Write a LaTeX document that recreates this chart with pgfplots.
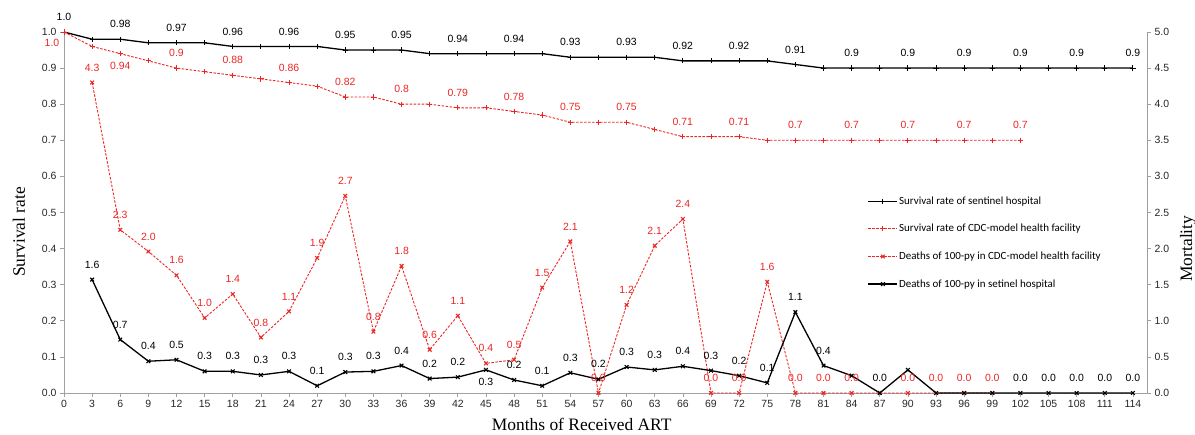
\documentclass[border=0pt]{standalone}
\usepackage{fontspec}
\setmainfont{Liberation Sans}
\newfontfamily\serifx{Liberation Serif}
\newfontfamily\calib{Carlito}
\usepackage{pgfplots}
\pgfplotsset{compat=1.18}
\definecolor{cdcred}{RGB}{236,38,36}
\definecolor{axgray}{RGB}{160,160,160}
\begin{document}
\begin{tikzpicture}
\pgfplotsset{
  common/.style={
    scale only axis, width=1083bp, height=361bp, at={(0,0)},
    xmin=0, xmax=115.5, clip=false,
    /pgf/number format/assume math mode=true,
    tick label style={font=\fontsize{10.5}{12}\selectfont, color=black!85},
    tick align=outside, major tick length=4bp,
    every tick/.style={axgray, line width=0.7bp},
    axis line style={axgray, line width=0.8bp},
  },
  lab/.style={draw=none, forget plot, nodes near coords, point meta=explicit symbolic,
    every node near coord/.append style={font=\fontsize{10.5}{12}\selectfont, anchor=center, inner sep=0pt, yshift=15bp}},
  labb/.style={draw=none, forget plot, nodes near coords, point meta=explicit symbolic,
    every node near coord/.append style={font=\fontsize{10.5}{12}\selectfont, anchor=center, inner sep=0pt, yshift=-12bp}},
  sents/.style={black, line width=1.3bp, mark=+, mark size=2.6bp, mark options={solid, line width=0.9bp}},
  cdcs/.style={cdcred, line width=0.9bp, dash pattern=on 2.5bp off 1.5bp, mark=+, mark size=2.6bp, mark options={solid, line width=0.9bp}},
  cdcd/.style={cdcred, line width=0.9bp, dash pattern=on 2.5bp off 1.5bp, mark=x, mark size=2.6bp, mark options={solid, line width=1.1bp}},
  sentd/.style={black, line width=1.3bp, mark=x, mark size=2.6bp, mark options={solid, line width=1.1bp}},
}
\begin{axis}[common,
  axis x line*=bottom, axis y line*=left,
  ymin=0, ymax=1,
  xtick={0,3,...,114},
  ytick={0,0.1,...,1.0},
  yticklabel style={/pgf/number format/.cd, fixed, fixed zerofill, precision=1},
  xlabel={\serifx\fontsize{17.5}{20}\selectfont Months of Received ART},
  xlabel style={at={(rel axis cs:0.478,0)}, anchor=center, yshift=-31bp},
  ylabel={\serifx\fontsize{17.5}{20}\selectfont Survival rate},
  ylabel style={at={(rel axis cs:0,0.446)}, anchor=center, yshift=45bp},
]
\addplot[sents] table {
x y
0 1.00
3 0.98
6 0.98
9 0.97
12 0.97
15 0.97
18 0.96
21 0.96
24 0.96
27 0.96
30 0.95
33 0.95
36 0.95
39 0.94
42 0.94
45 0.94
48 0.94
51 0.94
54 0.93
57 0.93
60 0.93
63 0.93
66 0.92
69 0.92
72 0.92
75 0.92
78 0.91
81 0.90
84 0.90
87 0.90
90 0.90
93 0.90
96 0.90
99 0.90
102 0.90
105 0.90
108 0.90
111 0.90
114 0.90
};
\addplot[cdcs] table {
x y
0 1.00
3 0.96
6 0.94
9 0.92
12 0.90
15 0.89
18 0.88
21 0.87
24 0.86
27 0.85
30 0.82
33 0.82
36 0.80
39 0.80
42 0.79
45 0.79
48 0.78
51 0.77
54 0.75
57 0.75
60 0.75
63 0.73
66 0.71
69 0.71
72 0.71
75 0.70
78 0.70
81 0.70
84 0.70
87 0.70
90 0.70
93 0.70
96 0.70
99 0.70
102 0.70
};
% labels of sentinel survival
\addplot[lab, every node near coord/.append style={black}] table[meta=l] {
x y l
0 1.00 1.0
6 0.98 0.98
12 0.97 0.97
18 0.96 0.96
24 0.96 0.96
30 0.95 0.95
36 0.95 0.95
42 0.94 0.94
48 0.94 0.94
54 0.93 0.93
60 0.93 0.93
66 0.92 0.92
72 0.92 0.92
78 0.91 0.91
84 0.90 0.9
90 0.90 0.9
96 0.90 0.9
102 0.90 0.9
108 0.90 0.9
114 0.90 0.9
};
% labels of CDC survival
\addplot[lab, every node near coord/.append style={cdcred}] table[meta=l] {
x y l
12 0.90 0.9
18 0.88 0.88
24 0.86 0.86
30 0.82 0.82
36 0.80 0.8
42 0.79 0.79
48 0.78 0.78
54 0.75 0.75
60 0.75 0.75
66 0.71 0.71
72 0.71 0.71
78 0.70 0.7
84 0.70 0.7
90 0.70 0.7
96 0.70 0.7
102 0.70 0.7
};
\addplot[labb, every node near coord/.append style={cdcred}] table[meta=l] {
x y l
6 0.94 0.94
};
\addplot[labb, every node near coord/.append style={cdcred, xshift=-12bp, yshift=1bp}] table[meta=l] {
x y l
0 1.00 1.0
};
\end{axis}
\begin{axis}[common,
  axis x line=none, axis y line*=right,
  ymin=0, ymax=5,
  ytick={0,0.5,...,5.0},
  yticklabel style={/pgf/number format/.cd, fixed, fixed zerofill, precision=1},
  ylabel={\serifx\fontsize{17.5}{20}\selectfont Mortality},
  ylabel style={at={(rel axis cs:1,0.40)}, anchor=center, yshift=-41bp},
  legend cell align=left,
  legend style={draw=none, fill=none, at={(rel axis cs:0.742,0.547)}, anchor=north west,
    font=\calib\fontsize{11}{13}\selectfont, row sep=16.5bp, inner sep=0pt,
    nodes={inner sep=1bp}},
  legend image code/.code={\draw[mark repeat=2,mark phase=2,#1] plot coordinates {(0bp,0bp) (14.5bp,0bp) (29bp,0bp)};},
]
\addlegendimage{sents}
\addlegendentry{Survival rate of sentinel hospital}
\addlegendimage{cdcs}
\addlegendentry{Survival rate of CDC-model health facility}
\addplot[cdcd] table {
x y
3 4.30
6 2.26
9 1.96
12 1.63
15 1.04
18 1.37
21 0.77
24 1.13
27 1.87
30 2.73
33 0.85
36 1.76
39 0.60
42 1.07
45 0.41
48 0.46
51 1.46
54 2.10
57 0.00
60 1.22
63 2.04
66 2.41
69 0.00
72 0.00
75 1.54
78 0.00
81 0.00
84 0.00
87 0.00
90 0.00
93 0.00
96 0.00
99 0.00
};
\addlegendentry{Deaths of 100-py in CDC-model health facility}
\addplot[sentd] table {
x y
3 1.57
6 0.74
9 0.44
12 0.46
15 0.30
18 0.30
21 0.25
24 0.30
27 0.10
30 0.29
33 0.30
36 0.38
39 0.20
42 0.22
45 0.32
48 0.18
51 0.10
54 0.28
57 0.19
60 0.36
63 0.32
66 0.37
69 0.31
72 0.24
75 0.14
78 1.12
81 0.38
84 0.24
87 0.00
90 0.32
93 0.00
96 0.00
99 0.00
102 0.00
105 0.00
108 0.00
111 0.00
114 0.00
};
\addlegendentry{Deaths of 100-py in setinel hospital}
% labels of sentinel deaths
\addplot[lab, every node near coord/.append style={black}] table[meta=l] {
x y l
3 1.57 1.6
6 0.74 0.7
9 0.44 0.4
12 0.46 0.5
15 0.30 0.3
18 0.30 0.3
21 0.25 0.3
24 0.30 0.3
27 0.10 0.1
30 0.29 0.3
33 0.30 0.3
36 0.38 0.4
39 0.20 0.2
42 0.22 0.2
48 0.18 0.2
51 0.10 0.1
54 0.28 0.3
57 0.19 0.2
60 0.36 0.3
63 0.32 0.3
66 0.37 0.4
69 0.31 0.3
72 0.24 0.2
75 0.14 0.1
78 1.12 1.1
81 0.38 0.4
87 0.00 0.0
102 0.00 0.0
105 0.00 0.0
108 0.00 0.0
111 0.00 0.0
114 0.00 0.0
};
\addplot[labb, every node near coord/.append style={black}] table[meta=l] {
x y l
45 0.32 0.3
};
% labels of CDC deaths
\addplot[lab, every node near coord/.append style={cdcred}] table[meta=l] {
x y l
3 4.30 4.3
6 2.26 2.3
9 1.96 2.0
12 1.63 1.6
15 1.04 1.0
18 1.37 1.4
21 0.77 0.8
24 1.13 1.1
27 1.87 1.9
30 2.73 2.7
33 0.85 0.8
36 1.76 1.8
39 0.60 0.6
42 1.07 1.1
45 0.41 0.4
48 0.46 0.5
51 1.46 1.5
54 2.10 2.1
57 0.00 0.0
60 1.22 1.2
63 2.04 2.1
66 2.41 2.4
69 0.00 0.0
72 0.00 0.0
75 1.54 1.6
78 0.00 0.0
81 0.00 0.0
84 0.00 0.0
90 0.00 0.0
93 0.00 0.0
96 0.00 0.0
99 0.00 0.0
};
\end{axis}
\pgfresetboundingbox
\path[use as bounding box] (-64bp,-42bp) rectangle (1131bp,393bp);
\end{tikzpicture}
\end{document}
